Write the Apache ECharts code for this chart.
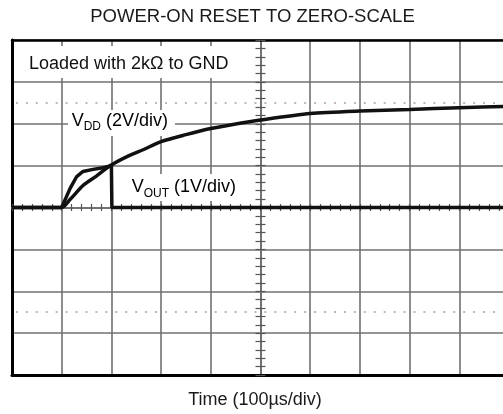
<!DOCTYPE html>
<html>
<head>
<meta charset="utf-8">
<script src="https://cdn.jsdelivr.net/npm/echarts@6/dist/echarts.min.js"></script>
<style>
  html, body { margin: 0; padding: 0; background: #fff; }
  #chart { width: 503px; height: 414px; }
</style>
</head>
<body>
<div id="chart"></div>
<script>
// ---- data read from the reference oscilloscope capture ----
// time in microseconds (100 µs/div), voltages in volts
const timeVdd = [0, 100, 116.7, 143.5, 170.4, 197.2, 231.4, 265, 300, 350, 400, 450, 500, 600, 700, 800, 900, 1000];
const vdd     = [0, 0,   0.38,  1.06,  1.51,  1.99,  2.43,  2.77, 3.15, 3.48, 3.77, 3.99, 4.18, 4.49, 4.61, 4.68, 4.77, 4.83];
const timeVout = [0, 100, 116.7, 130.2, 142.9, 163, 183.1, 200, 201, 1000];
const vout     = [0, 0,   0.45,  0.74,  0.86,  0.91, 0.95, 1.0, 0,   0];
const markerLevelsVdd = [5, -5];           // dotted reference graticule lines (±2.5 div)
const titleText = 'POWER-ON RESET TO ZERO-SCALE';
const xAxisTitle = 'Time (100\u00B5s/div)';
const noteText = 'Loaded with 2k\u03A9 to GND';

const FONT = '"Liberation Sans", Arial, Helvetica, sans-serif';
const GRID_COLOR = '#707070';

const chart = echarts.init(document.getElementById('chart'), null, { renderer: 'canvas' });

function pairs(xs, ys) { return xs.map((x, i) => [x, ys[i]]); }

const hiddenLabel = { show: false };
const tickAxisX = (inside) => ({
  type: 'value', min: 0, max: 1000, interval: 100, position: 'bottom', offset: -167.5,
  axisLine: { show: true, onZero: false, lineStyle: { color: GRID_COLOR, width: 1.5 } },
  axisTick: { show: true, inside: inside, length: 3.5, lineStyle: { color: '#555', width: 1.2 } },
  minorTick: { show: true, splitNumber: 5, length: 3.5, lineStyle: { color: '#555', width: 1.2 } },
  axisLabel: hiddenLabel, splitLine: { show: false }, minorSplitLine: { show: false }
});
const tickAxisY = (inside) => ({
  type: 'value', min: -4, max: 4, interval: 1, position: 'left', offset: -248.5,
  axisLine: { show: true, onZero: false, lineStyle: { color: GRID_COLOR, width: 1.5 } },
  axisTick: { show: true, inside: inside, length: 5, lineStyle: { color: '#555', width: 1.2 } },
  minorTick: { show: true, splitNumber: 5, length: 5, lineStyle: { color: '#555', width: 1.2 } },
  axisLabel: hiddenLabel, splitLine: { show: false }, minorSplitLine: { show: false }
});

const option = {
  animation: false,
  backgroundColor: '#fff',
  grid: { left: 12, top: 40, width: 497, height: 335, containLabel: false, outerBoundsMode: 'none', show: false },
  xAxis: [
    {
      type: 'value', min: 0, max: 1000, interval: 100, position: 'bottom',
      axisLine: { show: true, onZero: false, lineStyle: { color: '#000', width: 3 } },
      axisTick: { show: false }, axisLabel: hiddenLabel,
      splitLine: { show: true, lineStyle: { color: GRID_COLOR, width: 1.6 } }
    },
    {
      type: 'value', min: 0, max: 1000, interval: 100, position: 'top',
      axisLine: { show: true, onZero: false, lineStyle: { color: '#000', width: 2.5 } },
      axisTick: { show: false }, axisLabel: hiddenLabel, splitLine: { show: false }
    },
    tickAxisX(false),
    tickAxisX(true)
  ],
  yAxis: [
    {
      type: 'value', min: -8, max: 8, interval: 2, position: 'left',
      axisLine: { show: true, onZero: false, lineStyle: { color: '#000', width: 3 } },
      axisTick: { show: false }, axisLabel: hiddenLabel,
      splitLine: { show: true, lineStyle: { color: GRID_COLOR, width: 1.6 } }
    },
    {
      type: 'value', min: -4, max: 4, interval: 1, position: 'right',
      axisLine: { show: false, onZero: false }, axisTick: { show: false }, axisLabel: hiddenLabel,
      splitLine: { show: false }
    },
    tickAxisY(false),
    tickAxisY(true)
  ],
  series: [
    {
      name: 'VDD', type: 'line', xAxisIndex: 0, yAxisIndex: 0,
      data: pairs(timeVdd, vdd), showSymbol: false, symbol: 'none', smooth: 0.25,
      lineStyle: { color: '#111', width: 3.5 }, z: 3,
      markLine: {
        silent: true, symbol: ['none', 'none'], label: { show: false },
        lineStyle: { color: '#c4b4b4', width: 2, type: [2, 7.94], dashOffset: -3.9 },
        data: markerLevelsVdd.map(v => ({ yAxis: v }))
      }
    },
    {
      name: 'VOUT', type: 'line', xAxisIndex: 0, yAxisIndex: 1,
      data: pairs(timeVout, vout), showSymbol: false, symbol: 'none',
      lineStyle: { color: '#111', width: 3.5 }, z: 3
    }
  ],
  graphic: [
    { type: 'text', x: 252.5, y: 17, z: 10,
      style: { text: titleText, font: '18.5px ' + FONT, fill: '#1a1a1a', align: 'center', verticalAlign: 'middle' } },
    { type: 'text', x: 255, y: 400, z: 10,
      style: { text: xAxisTitle, font: '18px ' + FONT, fill: '#1a1a1a', align: 'center', verticalAlign: 'middle' } },
    { type: 'rect', shape: { x: 20, y: 46, width: 220, height: 32 }, z: 9, style: { fill: '#fff' } },
    { type: 'text', x: 29, y: 64, z: 10,
      style: { text: noteText, font: '18px ' + FONT, fill: '#111', align: 'left', verticalAlign: 'middle' } },
    { type: 'rect', shape: { x: 68, y: 110, width: 107, height: 26 }, z: 9, style: { fill: '#fff' } },
    { type: 'text', x: 71.7, y: 121, z: 10,
      style: {
        text: '{a|V}{b|DD}{a| (2V/div)}', align: 'left', verticalAlign: 'middle',
        rich: {
          a: { fontSize: 18, fontFamily: FONT, color: '#111', lineHeight: 24 },
          b: { fontSize: 12, fontFamily: FONT, color: '#111', lineHeight: 12, verticalAlign: 'bottom' }
        }
      } },
    { type: 'rect', shape: { x: 128, y: 174, width: 114, height: 27 }, z: 9, style: { fill: '#fff' } },
    { type: 'text', x: 131.7, y: 187.5, z: 10,
      style: {
        text: '{a|V}{b|OUT}{a| (1V/div)}', align: 'left', verticalAlign: 'middle',
        rich: {
          a: { fontSize: 18, fontFamily: FONT, color: '#111', lineHeight: 24 },
          b: { fontSize: 12, fontFamily: FONT, color: '#111', lineHeight: 12, verticalAlign: 'bottom' }
        }
      } }
  ]
};

chart.setOption(option);
</script>
</body>
</html>
